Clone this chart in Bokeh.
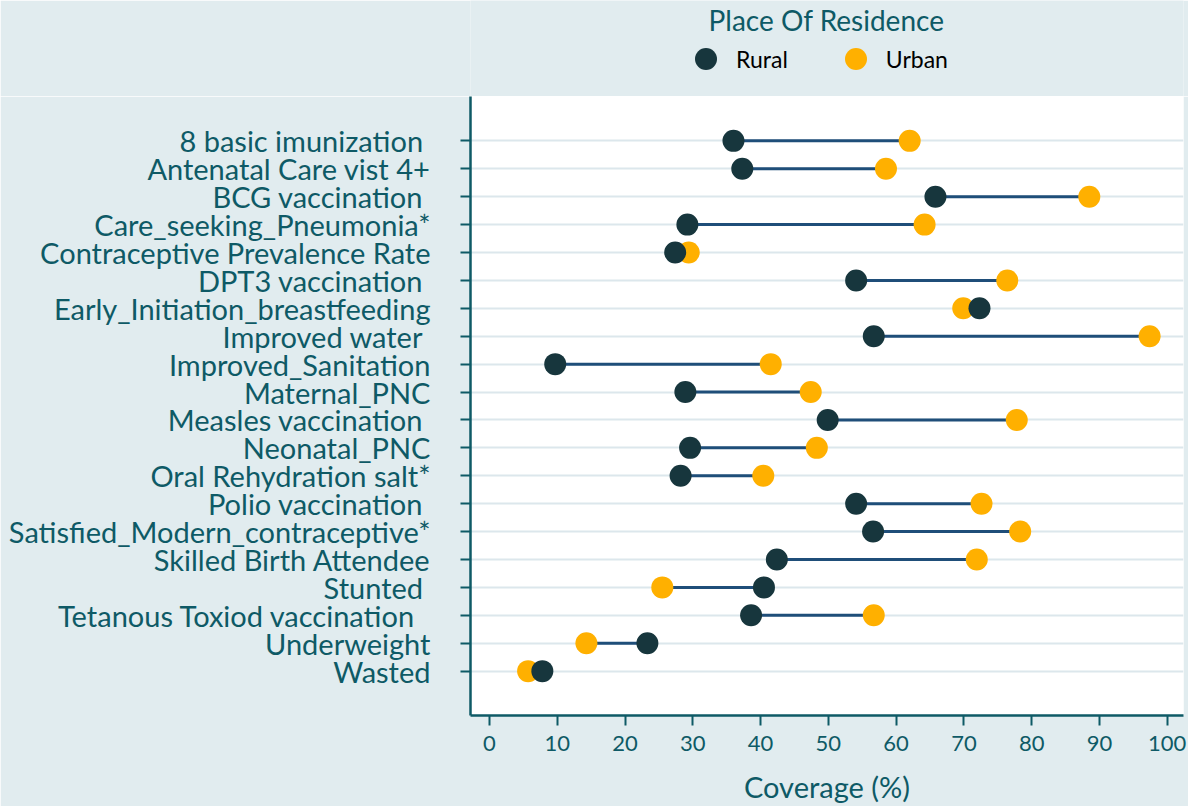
from bokeh.plotting import figure
from bokeh.layouts import column
from bokeh.models import (ColumnDataSource, FactorRange, Range1d, FixedTicker,
                          Legend, LegendItem, Label)
from bokeh.embed import file_html
from bokeh.resources import INLINE

indicators = ["8 basic imunization ", "Antenatal Care vist 4+", "BCG vaccination ",
              "Care_seeking_Pneumonia*", "Contraceptive Prevalence Rate", "DPT3 vaccination ",
              "Early_Initiation_breastfeeding", "Improved water ", "Improved_Sanitation",
              "Maternal_PNC", "Measles vaccination ", "Neonatal_PNC", "Oral Rehydration salt*",
              "Polio vaccination ", "Satisfied_Modern_contraceptive*", "Skilled Birth Attendee",
              "Stunted ", "Tetanous Toxiod  vaccination ", "Underweight", "Wasted"]
rural = [36.0, 37.3, 65.8, 29.2, 27.4, 54.1, 72.3, 56.7, 9.7, 28.9,
         49.9, 29.6, 28.2, 54.1, 56.6, 42.4, 40.5, 38.6, 23.3, 7.8]
urban = [62.0, 58.5, 88.5, 64.2, 29.4, 76.4, 69.9, 97.4, 41.5, 47.4,
         77.8, 48.3, 40.4, 72.6, 78.3, 71.9, 25.5, 56.7, 14.3, 5.7]
x_ticks = [0, 10, 20, 30, 40, 50, 60, 70, 80, 90, 100]
series_names = ["Rural", "Urban"]
legend_title = "Place Of Residence"
x_label = "Coverage (%)"

BG = "#E1ECEF"
TEAL = "#0E5A66"
RURAL_C = "#17363D"
URBAN_C = "#FFB000"
LINE_C = "#1F4E79"
FONT = "Lato"
W = 1188
TOP_H = 96
MAIN_H = 710

src = ColumnDataSource(dict(ind=indicators, rural=rural, urban=urban))

# ---- main chart ----
p = figure(y_range=FactorRange(factors=indicators[::-1], range_padding=0.109),
           x_range=Range1d(-2.8, 102.4),
           width=W, height=MAIN_H,
           min_border_left=470, min_border_right=5, min_border_top=0, min_border_bottom=89,
           output_backend="svg", toolbar_location=None,
           background_fill_color="white", border_fill_color=BG,
           outline_line_color=None)

p.segment(x0="rural", y0="ind", x1="urban", y1="ind", source=src,
          line_color=LINE_C, line_width=3)
p.scatter(x="urban", y="ind", source=src, size=22, fill_color=URBAN_C, line_color=None)
p.scatter(x="rural", y="ind", source=src, size=22, fill_color=RURAL_C, line_color=None)

p.xgrid.grid_line_color = None
p.ygrid.grid_line_color = "#DCE7EC"
p.ygrid.grid_line_width = 2

for ax in (p.xaxis[0], p.yaxis[0]):
    ax.axis_line_color = TEAL
    ax.axis_line_width = 2.5
    ax.major_tick_line_color = TEAL
    ax.major_tick_line_width = 2
    ax.major_tick_in = 0
    ax.major_tick_out = 10
    ax.minor_tick_line_color = None
    ax.major_label_text_color = TEAL
    ax.major_label_text_font = FONT

p.yaxis.major_label_text_font_size = "29px"
p.yaxis.major_label_standoff = 30
p.xaxis.ticker = FixedTicker(ticks=x_ticks)
p.xaxis.major_label_text_font_size = "22px"
p.xaxis.major_label_standoff = 10
p.xaxis.axis_label = x_label
p.xaxis.axis_label_text_font = FONT
p.xaxis.axis_label_text_font_size = "29px"
p.xaxis.axis_label_text_font_style = "normal"
p.xaxis.axis_label_text_color = TEAL
p.xaxis.axis_label_standoff = 15

# ---- legend strip above the chart ----
lf = figure(width=W, height=TOP_H, x_range=Range1d(0, 1), y_range=Range1d(0, 1),
            x_axis_type=None, y_axis_type=None,
            min_border_left=0, min_border_right=0, min_border_top=0, min_border_bottom=0,
            output_backend="svg", toolbar_location=None,
            background_fill_color=BG, border_fill_color=BG, outline_line_color=None)
lf.xgrid.visible = False
lf.ygrid.visible = False
nan = float("nan")
lr = lf.scatter(x=[nan], y=[nan], size=22, fill_color=RURAL_C, line_color=None)
lu = lf.scatter(x=[nan], y=[nan], size=22, fill_color=URBAN_C, line_color=None)

legend = Legend(items=[LegendItem(label=series_names[0], renderers=[lr]),
                       LegendItem(label=series_names[1], renderers=[lu])],
                orientation="horizontal", location=(208, 10),
                glyph_width=55, glyph_height=55, label_standoff=3, spacing=40,
                padding=0, margin=0, border_line_color=None,
                background_fill_alpha=0,
                label_text_font=FONT, label_text_font_size="23px",
                label_text_color="black")
lf.add_layout(legend, "center")

title = Label(x=356, y=TOP_H - 19, x_units="screen", y_units="screen",
              text=legend_title, text_align="center", text_baseline="middle",
              text_font=FONT, text_font_size="28px", text_color=TEAL)
lf.add_layout(title)

layout = column(lf, p, spacing=0)
open("out.html", "w").write(file_html(layout, INLINE))
